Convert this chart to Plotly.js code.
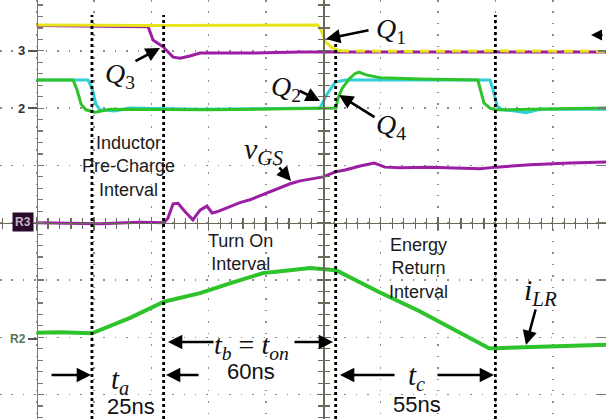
<!DOCTYPE html>
<html><head><meta charset="utf-8">
<script src="https://cdn.plot.ly/plotly-3.0.1.min.js"></script>
<style>html,body{margin:0;padding:0;background:#fff}#chart{width:606px;height:419px}</style>
</head><body><div id="chart"></div>
<script>
// ---- data (time in ns, amplitude in scope divisions) ----
const tQ1 = [0, 40, 98.1, 99.5, 100.9, 103.0, 105.8, 130, 160, 198.6];
const vQ1 = [3.45, 3.44, 3.45, 3.33, 3.15, 3.05, 3.00, 2.99, 3.00, 2.99];
const tQ3 = [0, 38.9, 40.6, 44.1, 47.6, 50.0, 53.5, 57.0, 74.4, 91.9, 198.6];
const vQ3 = [3.44, 3.42, 3.19, 3.07, 2.89, 2.87, 2.91, 2.96, 2.96, 2.98, 2.98];
const tQ2 = [0, 17.9, 19.3, 20.7, 22.1, 27.3, 32.6, 57.0, 98.8, 99.5, 100.9, 102.3, 104.1, 107.6, 152.9, 158.1, 159.2, 160.6, 162.3, 166.9, 170.7, 175.6, 198.6];
const vQ2 = [2.49, 2.49, 2.35, 2.07, 1.97, 1.95, 2.00, 1.98, 2.00, 2.07, 2.21, 2.32, 2.45, 2.49, 2.48, 2.49, 2.32, 2.04, 1.97, 1.95, 1.92, 1.98, 1.98];
const tQ4 = [0, 12.7, 14.1, 15.5, 17.2, 20.4, 25.6, 60, 104.4, 105.1, 106.5, 109.0, 111.0, 112.4, 114.9, 119.8, 133.7, 153.9, 155.0, 156.0, 158.1, 159.9, 165.1, 172.1, 198.6];
const vQ4 = [2.49, 2.49, 2.32, 2.07, 1.97, 1.93, 1.98, 1.97, 2.00, 2.17, 2.34, 2.51, 2.60, 2.63, 2.58, 2.53, 2.51, 2.49, 2.28, 2.09, 2.00, 1.97, 1.97, 1.98, 2.00];
const tVgs = [0, 22.1, 36.1, 44.4, 45.8, 47.6, 49.3, 51.8, 54.5, 57.0, 59.4, 61.2, 62.9, 66.4, 70.9, 74.4, 79.6, 84.9, 88.4, 91.9, 95.3, 99.9, 104.4, 107.6, 112.8, 117.7, 121.5, 126.7, 137.2, 147.7, 154.6, 160.2, 172.1, 186.0, 198.6];
const vVgs = [0, -0.02, 0.01, 0, 0.08, 0.33, 0.34, 0.19, 0.05, 0.22, 0.29, 0.17, 0.19, 0.26, 0.35, 0.40, 0.50, 0.61, 0.68, 0.73, 0.76, 0.80, 0.89, 0.92, 0.99, 1.04, 0.97, 0.96, 0.97, 0.95, 0.94, 0.97, 1.01, 1.04, 1.06];
const tIlr = [0, 8.2, 19.3, 32.6, 44.4, 57.0, 68.5, 78.9, 88.4, 95.3, 104.4, 119.4, 133.4, 147.7, 157.8, 160.2, 171.0, 182.5, 198.6];
const vIlr = [-1.92, -1.91, -1.93, -1.66, -1.38, -1.23, -1.04, -0.88, -0.83, -0.79, -0.83, -1.21, -1.54, -1.93, -2.19, -2.19, -2.17, -2.15, -2.13];
const intervalEdges = [19.3, 44.3, 104.3, 160.0];
const intervalTexts = ['Inductor<br>Pre-Charge<br>Interval', 'Turn On<br>Interval', 'Energy<br>Return<br>Interval'];
const durations = ['25ns', '60ns', '55ns'];

const W = 606, H = 419;
const P = (px, py) => ({x: px / W, y: 1 - py / H, xref: 'paper', yref: 'paper'});
const serif = 'Liberation Serif, Times New Roman, serif';
const sans = 'Liberation Sans, Arial, sans-serif';
const YEL = '#e8e41c', PUR = '#9b1ea3', CYA = '#2fd0d8', GRN = '#2ec32a';
const split = 6;

const line = (x, y, c, w, dash) => ({x, y, type: 'scatter', mode: 'lines', line: {color: c, width: w, dash: dash || 'solid'}, hoverinfo: 'skip'});
const dummy = (xa, ya) => ({x: [null], y: [null], xaxis: xa, yaxis: ya, type: 'scatter', mode: 'lines', hoverinfo: 'skip'});

const traces = [
  line(tVgs, vVgs, PUR, 3),
  line(tIlr, vIlr, GRN, 4),
  line(tQ3, vQ3, PUR, 3),
  line(tQ1.slice(0, split + 1), vQ1.slice(0, split + 1), YEL, 3),
  line(tQ1.slice(split), vQ1.slice(split), YEL, 3, '9px,7px'),
  line(tQ2, vQ2, CYA, 3),
  line(tQ4, vQ4, GRN, 3),
  dummy('x2', 'y'), dummy('x3', 'y'), dummy('x', 'y2'), dummy('x', 'y3'), dummy('x', 'y4')
];

const XR = [-12.76, 198.57], YR = [-3.426, 3.887];
const gridDash = '1.5px,9.97px';
const axC = '#6a6a5a';
const base = {showticklabels: false, zeroline: false, fixedrange: true};
const layout = {
  width: W, height: H, margin: {l: 0, r: 0, t: 0, b: 0},
  paper_bgcolor: '#fff', plot_bgcolor: '#fff', showlegend: false, hovermode: false,
  xaxis: Object.assign({}, base, {range: XR, tick0: 0, dtick: 20, showgrid: true, gridcolor: '#8c8c8c', gridwidth: 1.5, griddash: gridDash, ticks: '', showline: false}),
  yaxis: Object.assign({}, base, {range: YR, tick0: 0, dtick: 1, showgrid: true, gridcolor: '#8c8c8c', gridwidth: 1.5, griddash: gridDash,
    anchor: 'free', position: 36.6 / W, showline: true, linecolor: '#777', linewidth: 1.2,
    ticks: 'inside', ticklen: 6, tickcolor: '#777', tickwidth: 1.2,
    minor: {dtick: 0.2, ticks: 'inside', ticklen: 5, tickcolor: '#777', tickwidth: 1.2}}),
  xaxis2: Object.assign({}, base, {range: XR, overlaying: 'x', anchor: 'free', position: (H - 222.7) / H, tick0: 0, dtick: 20, showgrid: false,
    showline: true, linecolor: axC, linewidth: 1.2, ticks: 'inside', ticklen: 6, tickcolor: axC, tickwidth: 1.2,
    minor: {dtick: 4, ticks: 'inside', ticklen: 5, tickcolor: axC, tickwidth: 1.2}}),
  xaxis3: Object.assign({}, base, {range: XR, overlaying: 'x', anchor: 'free', position: (H - 222.7) / H, tick0: 0, dtick: 20, showgrid: false,
    showline: false, ticks: 'outside', ticklen: 6, tickcolor: axC, tickwidth: 1.2,
    minor: {dtick: 4, ticks: 'outside', ticklen: 5, tickcolor: axC, tickwidth: 1.2}}),
  yaxis2: Object.assign({}, base, {range: YR, overlaying: 'y', anchor: 'free', position: 323.3 / W, tick0: 0, dtick: 1, showgrid: false,
    showline: true, linecolor: axC, linewidth: 1.2, ticks: 'inside', ticklen: 6, tickcolor: axC, tickwidth: 1.2,
    minor: {dtick: 0.2, ticks: 'inside', ticklen: 5, tickcolor: axC, tickwidth: 1.2}}),
  yaxis3: Object.assign({}, base, {range: YR, overlaying: 'y', anchor: 'free', position: 323.3 / W, tick0: 0, dtick: 1, showgrid: false,
    showline: false, ticks: 'outside', ticklen: 6, tickcolor: axC, tickwidth: 1.2,
    minor: {dtick: 0.2, ticks: 'outside', ticklen: 5, tickcolor: axC, tickwidth: 1.2}}),
  yaxis4: Object.assign({}, base, {range: YR, overlaying: 'y', anchor: 'free', position: 1, side: 'right', tick0: 0, dtick: 1, showgrid: false,
    showline: false, ticks: 'inside', ticklen: 8, tickcolor: '#777', tickwidth: 1.5}),
  shapes: [], annotations: []
};

// interval marker lines
intervalEdges.forEach((t, i) => {
  layout.shapes.push({type: 'line', xref: 'x', yref: 'paper', x0: t, x1: t, y0: 0, y1: 1 - (i === 2 ? 33 : 15) / H,
    line: {color: '#000', width: 2.8, dash: 'dot'}, layer: 'above'});
});
// left channel markers
[[51], [108], [339]].forEach(([py]) => {
  layout.shapes.push({type: 'line', xref: 'paper', yref: 'paper', x0: 28 / W, x1: 37 / W, y0: 1 - py / H, y1: 1 - py / H, line: {color: '#555', width: 2}});
});

const A = layout.annotations;
const txt = (px, py, text, size, family, color, extra) => A.push(Object.assign(P(px, py), {text, showarrow: false, font: {size, family, color: color || '#111'}, xanchor: 'center', yanchor: 'middle'}, extra || {}));
const arr = (hx, hy, tx, ty, w) => A.push(Object.assign(P(hx, hy), {text: '', showarrow: true, ax: tx - hx, ay: ty - hy, arrowhead: 2, arrowsize: 1.1, arrowwidth: w || 2.6, arrowcolor: '#000', standoff: 0, startstandoff: 0}));

// signal labels
txt(391, 30, '<i>Q</i><sub>1</sub>', 28, serif);
txt(120, 75, '<i>Q</i><sub>3</sub>', 28, serif);
txt(286, 88, '<i>Q</i><sub>2</sub>', 28, serif);
txt(391, 127, '<i>Q</i><sub>4</sub>', 28, serif);
txt(263, 151, '<i>v</i><sub><i>GS</i></sub>', 30, serif);
txt(540, 292, '<i>i</i><sub><i>LR</i></sub>', 30, serif);
arr(326, 39, 370, 30);
arr(160, 48, 134, 62);
arr(320, 101, 298, 90);
arr(339, 95, 376, 118);
arr(291, 181, 278, 166);
arr(526, 345, 536, 308);
arr(591, 35, 604, 35, 2);

// interval texts
txt(128, 166, intervalTexts[0], 18, sans, '#1a1a1a');
txt(240, 252, intervalTexts[1], 18, sans, '#1a1a1a');
txt(418, 268, intervalTexts[2], 18, sans, '#1a1a1a');

// durations
txt(120, 381, '<i>t</i><sub><i>a</i></sub>', 29, serif);
txt(251, 346, '<i>t</i><sub><i>b</i></sub> = <i>t</i><sub><i>on</i></sub>', 28, serif);
txt(417, 377, '<i>t</i><sub><i>c</i></sub>', 29, serif);
txt(131, 406, durations[0], 22, sans);
txt(251, 371, durations[1], 22, sans);
txt(417, 404, durations[2], 22, sans);
arr(91, 375, 50, 375);
arr(166, 375, 200, 375);
arr(168, 342, 215, 342);
arr(333, 342, 293, 342);
arr(340, 375, 396, 375);
arr(494, 375, 436, 375);

// channel markers
txt(21, 51, '<b>3</b>', 13, sans, '#333');
txt(21, 108, '<b>2</b>', 13, sans, '#333');
txt(23, 222, '<b>R3</b>', 12, sans, '#c9b3c9', {bgcolor: '#2b0b2b', borderpad: 2});
txt(18, 339, '<b>R2</b>', 12, sans, '#56775a');

Plotly.newPlot('chart', traces, layout, {staticPlot: true, displayModeBar: false});
</script></body></html>
